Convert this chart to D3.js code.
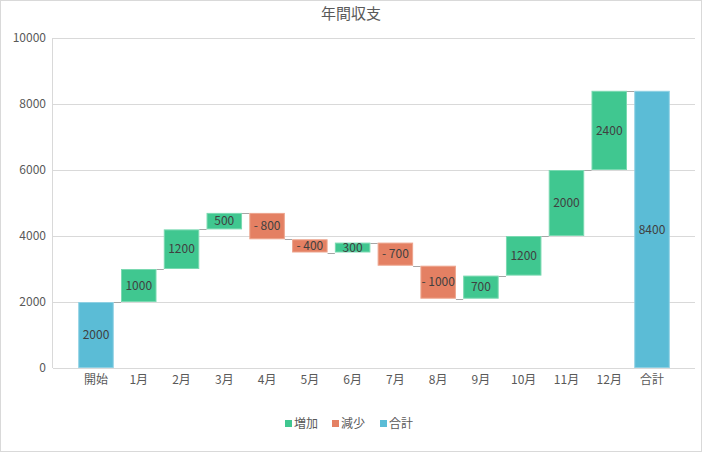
<!DOCTYPE html>
<html><head><meta charset="utf-8">
<script src="https://cdn.jsdelivr.net/npm/d3@7"></script>
<style>
html,body{margin:0;padding:0;background:#fff;}
svg text{font-family:"Noto Sans CJK JP","Noto Sans",sans-serif;}
</style></head>
<body><svg id="c" width="702" height="452"></svg>
<script>
const categories = ["開始","1月","2月","3月","4月","5月","6月","7月","8月","9月","10月","11月","12月","合計"];
const changes = [2000,1000,1200,500,-800,-400,300,-700,-1000,700,1200,2000,2400,8400];
const kinds = ["total","inc","inc","inc","dec","dec","inc","dec","dec","inc","inc","inc","inc","total"];
const yTicks = [0,2000,4000,6000,8000,10000];
const legendLabels = ["増加","減少","合計"];
const colors = {inc:"#40c790", dec:"#e48063", total:"#5bbcd6"};
const strokes = {inc:"#7ad9b1", dec:"#eda48d", total:"#8ed0e3"};

let run = 0;
const bars = categories.map((c,i)=>{
  let y0,y1;
  if(kinds[i]==="total"){ y0=0; y1=changes[i]; run=changes[i]; }
  else { y0=run; y1=run+changes[i]; run=y1; }
  return {cat:c, y0, y1, kind:kinds[i], v:changes[i]};
});

const svg = d3.select("#c");
svg.append("rect").attr("x",0.5).attr("y",0.5).attr("width",701).attr("height",451)
  .attr("fill","#fff").attr("stroke","#d9d9d9");

const x = d3.scaleBand().domain(categories).range([53,695]).paddingInner(0.17).paddingOuter(0.59);
const y = d3.scaleLinear().domain([0,10000]).range([368,38]);

svg.append("g").selectAll("line").data(yTicks).join("line")
  .attr("x1",53).attr("x2",695).attr("y1",d=>Math.round(y(d))+0.5).attr("y2",d=>Math.round(y(d))+0.5)
  .attr("stroke","#d9d9d9").attr("stroke-width",1);
svg.append("line").attr("x1",52.5).attr("x2",52.5).attr("y1",38).attr("y2",368).attr("stroke","#d9d9d9");

const yAxis = d3.axisLeft(y).tickValues(yTicks).tickFormat(d3.format("d")).tickSize(0).tickPadding(6);
const gy = svg.append("g").attr("transform","translate(52,0)").call(yAxis);
gy.select(".domain").remove();
gy.selectAll("text").attr("fill","#595959").style("font-size","12px");

const xAxis = d3.axisBottom(x).tickSize(0).tickPadding(7);
const gx = svg.append("g").attr("transform","translate(0,368)").call(xAxis);
gx.select(".domain").remove();
gx.selectAll("text").attr("fill","#595959").style("font-size","12px");

for(let i=0;i<bars.length-1;i++){
  const yy = Math.round(y(bars[i].y1))+0.5;
  svg.append("line").attr("x1",x(bars[i].cat)+x.bandwidth()).attr("x2",x(bars[i+1].cat))
    .attr("y1",yy).attr("y2",yy).attr("stroke","#a6a6a6").attr("stroke-width",1);
}

svg.append("g").selectAll("rect").data(bars).join("rect")
  .attr("x",d=>x(d.cat)+0.5).attr("width",x.bandwidth()-1)
  .attr("y",d=>y(Math.max(d.y0,d.y1))+0.5).attr("height",d=>Math.abs(y(d.y0)-y(d.y1))-1)
  .attr("fill",d=>colors[d.kind]).attr("stroke",d=>strokes[d.kind]).attr("stroke-width",1);

svg.append("g").selectAll("text").data(bars).join("text")
  .attr("x",d=>x(d.cat)+x.bandwidth()/2).attr("y",d=>y((d.y0+d.y1)/2))
  .attr("dy","0.35em").attr("text-anchor","middle").attr("fill","#404040").style("font-size","12px")
  .text(d=>d.v<0 ? "- "+Math.abs(d.v) : String(d.v));

svg.append("text").attr("x",351).attr("y",19).attr("text-anchor","middle")
  .attr("fill","#595959").style("font-size","15px").text("年間収支");

const legKinds = ["inc","dec","total"];
const legX = [285,332,380];
legKinds.forEach((k,i)=>{
  svg.append("rect").attr("x",legX[i]).attr("y",420).attr("width",7).attr("height",7).attr("fill",colors[k]);
  svg.append("text").attr("x",legX[i]+9).attr("y",424).attr("dy","0.35em")
    .attr("fill","#595959").style("font-size","12px").text(legendLabels[i]);
});
</script></body></html>
